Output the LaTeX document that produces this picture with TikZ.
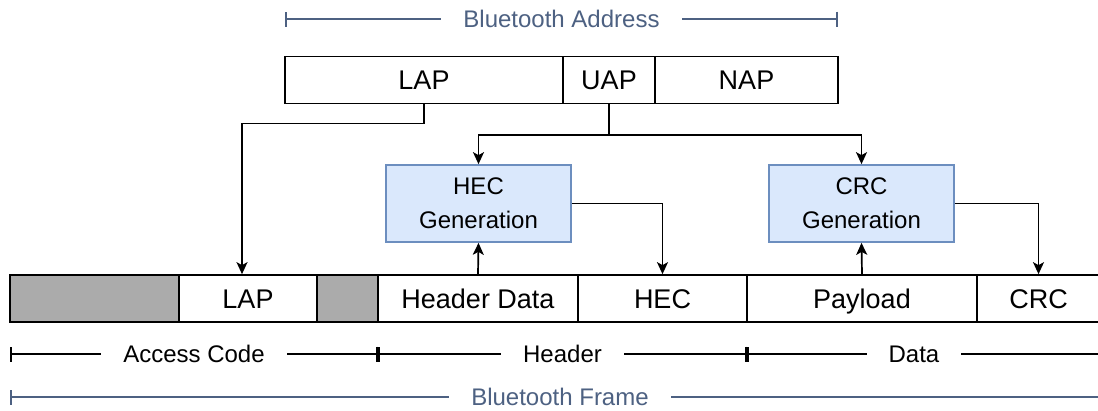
\documentclass[tikz,border=0pt]{standalone}
\usepackage{fontspec}
\setmainfont{Liberation Sans}
\usetikzlibrary{arrows.meta}
\definecolor{spanblue}{HTML}{4D6182}
\definecolor{genfill}{HTML}{DAE8FC}
\definecolor{gendraw}{HTML}{6C8EBF}
\definecolor{unused}{HTML}{ABABAB}

\begin{document}
\begin{tikzpicture}[x=1pt, y=-1pt, line width=1.7pt,
    >={Stealth[length=12pt, width=11pt, inset=3pt]}]
      \tikzstyle{field}=[draw, inner sep=0pt, minimum height=47pt,
        text height=19.4pt, text depth=0pt,
        font=\fontsize{27}{32}\selectfont]
      \tikzstyle{gen}=[draw=gendraw, fill=genfill, inner sep=0pt,
        minimum width=185pt, minimum height=77pt, align=center,
        font=\fontsize{24}{34}\selectfont]
      \tikzstyle{span}=[{Bar[width=15pt]}-{Bar[width=15pt]}]
      \tikzstyle{spanlabel}=[fill=white, inner xsep=22pt, inner ysep=2pt,
        font=\fontsize{24}{28}\selectfont]

      \useasboundingbox (0,0) rectangle (1098,410);

      % Address fields, top row.
      \node[field, minimum width=278pt] (a_lap) at (424,80)   {LAP};
      \node[field, minimum width=92pt]  (a_uap) at (609,80)   {UAP};
      \node[field, minimum width=183pt] (a_nap) at (746.5,80) {NAP};

      % Generators in the middle.
      \node[gen] (hec_gen) at (478.5,203.5) {HEC\\Generation};
      \node[gen] (crc_gen) at (861.5,203.5) {CRC\\Generation};

      % Frame fields, bottom row.
      \node[field, fill=unused, minimum width=169pt] (f_ac1) at (94.5,298.5)  {};
      \node[field, minimum width=138pt]              (f_lap) at (248,298.5)   {LAP};
      \node[field, fill=unused, minimum width=61pt]  (f_ac2) at (347.5,298.5) {};
      \node[field, minimum width=200pt]              (f_hdr) at (478,298.5)   {Header Data};
      \node[field, minimum width=169pt]              (f_hec) at (662.5,298.5) {HEC};
      \node[field, minimum width=230pt]              (f_pay) at (862,298.5)   {Payload};
      \node[field, minimum width=123pt]              (f_crc) at (1038.5,298.5) {CRC};

      % Connectors between the rows.
      \coordinate (uap_split) at (609,135);
      \draw[->] (a_lap.south) -- ++(0,19) -| ([xshift=-6pt]f_lap.north);
      \draw (a_uap.south) -- (uap_split);
      \draw[->] (uap_split) -| (hec_gen.north);
      \draw[->] (uap_split) -| (crc_gen.north);
      \draw[->] (f_hdr.north) -- (hec_gen.south);
      \draw[->] (hec_gen.east) -| (f_hec.north);
      \draw[->] (f_pay.north) -- (crc_gen.south);
      \draw[->] (crc_gen.east) -| (f_crc.north);

      % Spans with their labels.
      \coordinate (ba_l) at (285,19);
      \coordinate (ba_r) at (838,19);
      \coordinate (s_0) at (10,354);
      \coordinate (s_1) at (378,354);
      \coordinate (s_2) at (747,354);
      \coordinate (s_3) at (1110,354);
      \coordinate (bf_l) at (10,397);
      \coordinate (bf_r) at (1110,397);
      \draw[span, spanblue] (ba_l) -- node[spanlabel] {Bluetooth Address} (ba_r);
      \draw[span] (s_0) -- node[spanlabel] {Access Code} (s_1);
      \draw[span] (s_1) -- node[spanlabel] {Header} (s_2);
      \draw[span] (s_2) -- node[spanlabel, pos=0.46] {Data} (s_3);
      \draw[span, spanblue] (bf_l) -- node[spanlabel] {Bluetooth Frame} (bf_r);
    \end{tikzpicture}
\end{document}
